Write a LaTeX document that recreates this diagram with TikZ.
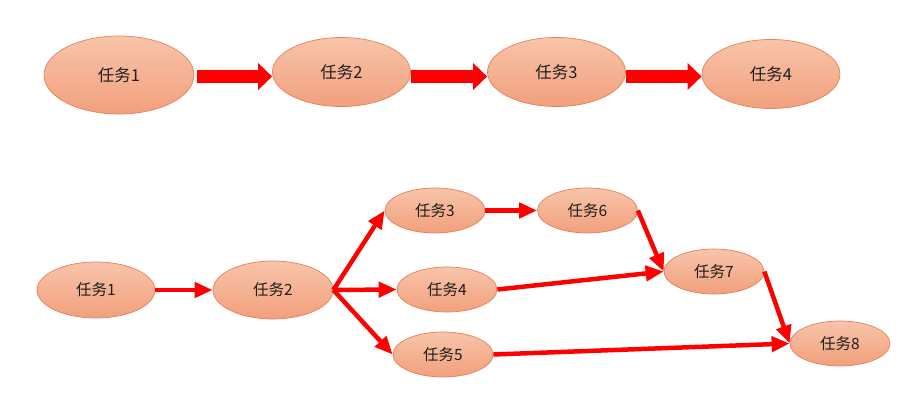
\documentclass[tikz,border=0pt]{standalone}
\usepackage{fontspec}
\newfontfamily\cjk{Noto Sans CJK SC}
\usetikzlibrary{shapes.geometric,arrows.meta,calc}
\definecolor{boxtop}{RGB}{248,196,170}
\definecolor{boxbot}{RGB}{241,160,124}
\definecolor{boxline}{RGB}{228,128,88}
\definecolor{txt}{RGB}{30,30,30}
\begin{document}
\begin{tikzpicture}[x=1pt,y=-1pt,
  task/.style={ellipse, draw=boxline, line width=0.7pt, top color=boxtop, bottom color=boxbot,
    inner sep=0pt, text=txt, font=\cjk\fontsize{15.5}{17}\selectfont},
  big/.style={task, minimum width=138pt, minimum height=69pt, font=\cjk\fontsize{16.5}{18}\selectfont},
  small/.style={task, minimum width=100pt, minimum height=45pt},
  blockarrow/.style={draw=red, line width=13pt, -{Triangle[length=14pt,width=26pt]}},
  link/.style={draw=red, line width=4.5pt, -{Triangle[length=18pt,width=15pt]}}
]
\useasboundingbox (0,0) rectangle (914,417);
\fill[white] (0,0) rectangle (914,417);
% top row
\node[big, minimum width=150pt, minimum height=78pt] (t1) at (119,75) {任务1};
\node[big] (t2) at (341.5,72) {任务2};
\node[big] (t3) at (556.5,72) {任务3};
\node[big] (t4) at (771,74) {任务4};
\draw[blockarrow] ($(t1.east)+(3,1.5)$) -- ($(t1.east -| t2.west)+(0,1.5)$);
\draw[blockarrow] ($(t2.east)+(0,4.5)$) -- ($(t2.east -| t3.west)+(0,4.5)$);
\draw[blockarrow] ($(t3.east)+(0,4.5)$) -- ($(t3.east -| t4.west)+(0,4.5)$);
% bottom network
\node[small, minimum width=118pt, minimum height=56pt] (b1) at (96,290) {任务1};
\node[small, minimum width=120pt, minimum height=58pt] (b2) at (273,290) {任务2};
\node[small] (b3) at (435,210.5) {任务3};
\node[small] (b4) at (447,289.5) {任务4};
\node[small] (b5) at (443,354.5) {任务5};
\node[small] (b6) at (587.5,210.5) {任务6};
\node[small] (b7) at (714,271.5) {任务7};
\node[small] (b8) at (840,343.5) {任务8};
\draw[link] (b1.east) -- (b2.west);
\draw[link] (b2.east) -- (b3.west);
\draw[link] (b2.east) -- (b4.west);
\draw[link] (b2.east) -- (b5.west);
\draw[link] (b3.east) -- (b6.west);
\draw[link] (b6.east) -- (b7.west);
\draw[link] (b4.east) -- (b7.west);
\draw[link] (b7.east) -- (b8.west);
\draw[link] (b5.east) -- (b8.west);
\end{tikzpicture}
\end{document}
